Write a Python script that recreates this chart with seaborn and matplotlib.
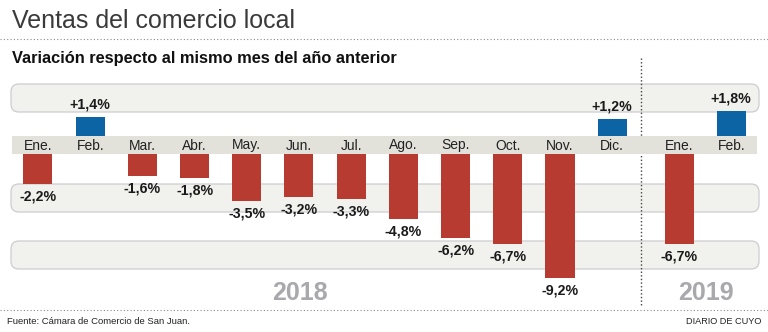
import numpy as np
import pandas as pd
import seaborn as sns
import matplotlib.pyplot as plt
from matplotlib.patches import FancyBboxPatch, Rectangle

# ---------------- data ----------------
months = ["Ene.", "Feb.", "Mar.", "Abr.", "May.", "Jun.", "Jul.",
          "Ago.", "Sep.", "Oct.", "Nov.", "Dic.", "Ene.", "Feb."]
years = ["2018"] * 12 + ["2019"] * 2
values = [-2.2, 1.4, -1.6, -1.8, -3.5, -3.2, -3.3,
          -4.8, -6.2, -6.7, -9.2, 1.2, -6.7, 1.8]
year_labels = ["2018", "2019"]

title = "Ventas del comercio local"
subtitle = "Variación respecto al mismo mes del año anterior"
source = "Fuente: Cámara de Comercio de San Juan."
credit = "DIARIO DE CUYO"

# ---------------- layout helpers (pixels -> data) ----------------
SLOT = 52.2      # px per month slot
X0 = 38.0        # px centre of first bar
UNIT = 13.5      # px per percentage point
ZERO = 135.5     # px of zero line (top of month band)
BAND_BOT = 154.0 # px bottom of month band (negative bars start here)
GAP = (BAND_BOT - ZERO) / UNIT


def X(px):
    return (px - X0) / SLOT


def Y(py):
    return (ZERO - py) / UNIT


sns.set_theme(style="white")
plt.rcParams["font.family"] = ["Liberation Sans", "DejaVu Sans"]

fig = plt.figure(figsize=(7.68, 3.32), dpi=100)
ax = fig.add_axes([0, 0, 1, 1])

# positions: 2019 separated by an extra gap
year_gap = 0.28
positions = [i + (year_gap if y == "2019" else 0.0) for i, y in enumerate(years)]
plot_vals = [v if v > 0 else v - GAP for v in values]
df = pd.DataFrame({
    "pos": positions,
    "plot": plot_vals,
    "sign": ["pos" if v > 0 else "neg" for v in values],
})

# background bands
for t, b in [(84, 112), (184, 212), (241, 269)]:
    ax.add_patch(FancyBboxPatch((X(11), Y(b)), X(759) - X(11), Y(t) - Y(b),
                                boxstyle="round,pad=0,rounding_size=0.15",
                                mutation_aspect=SLOT / UNIT,
                                fc="#f1f1ed", ec="#cdcdd1", lw=0.9, zorder=0))

# bars
sns.barplot(data=df, x="pos", y="plot", hue="sign",
            palette={"pos": "#0d64a5", "neg": "#b73b30"},
            native_scale=True, dodge=False, width=29 / SLOT,
            errorbar=None, legend=False, saturation=1,
            linewidth=0, zorder=2, ax=ax)

# month band (covers the start of negative bars)
ax.add_patch(Rectangle((X(12), Y(BAND_BOT)), X(757) - X(12), Y(ZERO) - Y(BAND_BOT),
                       fc="#e2e1da", ec="none", zorder=3))

# month labels and value labels
for p, m, v in zip(positions, months, values):
    ax.text(p, Y(145.5), m, ha="center", va="center", fontsize=10,
            color="#222222", zorder=4)
    lab = f"{v:+.1f}%".replace(".", ",")
    if v > 0:
        ax.text(p, v + 12.5 / UNIT, lab, ha="center", va="center",
                fontsize=10.2, fontweight="bold", color="#1a1a1a", zorder=4)
    else:
        ax.text(p, v - GAP - 12.5 / UNIT, lab, ha="center", va="center",
                fontsize=10.2, fontweight="bold", color="#1a1a1a", zorder=4)

# year labels
ax.text(X(300), Y(293), year_labels[0], ha="center", va="center",
        fontsize=18, fontweight="bold", color="#a8a8ad")
ax.text(X(706), Y(293), year_labels[1], ha="center", va="center",
        fontsize=18, fontweight="bold", color="#a8a8ad")

# dotted separators
ax.plot([X(0), X(768)], [Y(39), Y(39)], ls=(0, (1, 2)), color="#8a8a8a", lw=0.8)
ax.plot([X(0), X(768)], [Y(310), Y(310)], ls=(0, (1, 2)), color="#8a8a8a", lw=0.8)
ax.plot([X(641), X(641)], [Y(58), Y(307)], ls=(0, (1, 1.6)), color="#444444",
        lw=1.0, zorder=1)

# titles and footer
ax.text(X(12), Y(21), title, ha="left", va="center", fontsize=18, color="#3a3a3a")
ax.text(X(12), Y(59), subtitle, ha="left", va="center", fontsize=11.75,
        fontweight="bold", color="#111111")
ax.text(X(7), Y(322), source, ha="left", va="center", fontsize=6.8, color="#222222")
ax.text(X(761), Y(322), credit, ha="right", va="center", fontsize=6.6, color="#222222")

ax.set_xlim(X(0), X(768))
ax.set_ylim(Y(332), Y(0))
ax.axis("off")

fig.savefig("out.png", dpi=100, facecolor="white")
